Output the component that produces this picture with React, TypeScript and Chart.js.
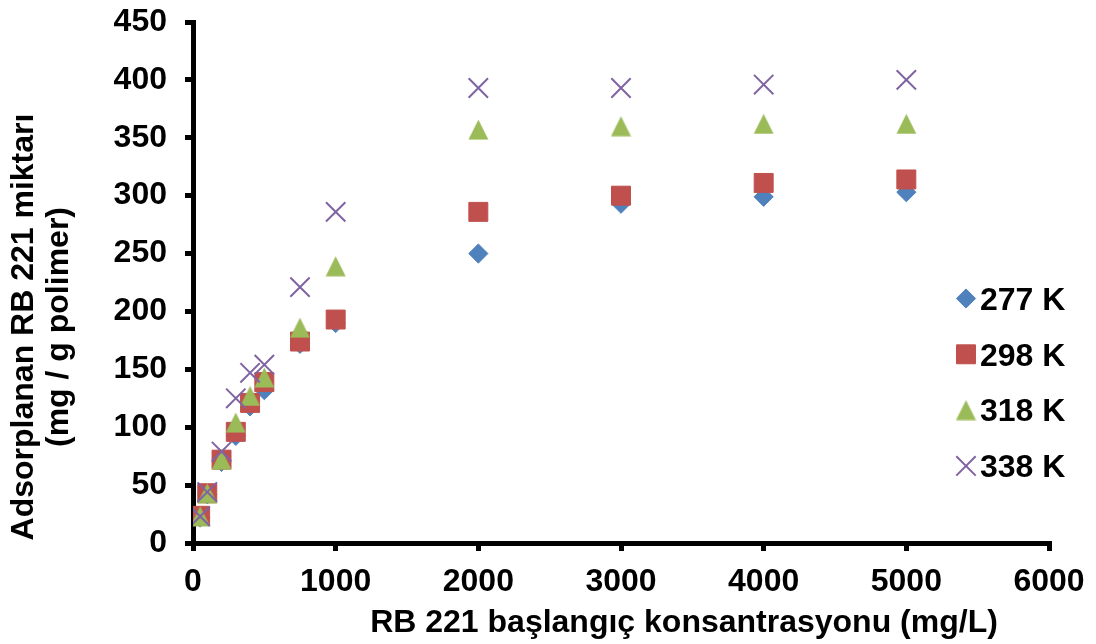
import React, { useEffect, useRef } from "react";
import { Chart, registerables, PointElement } from "chart.js";

Chart.register(...registerables);

// ---- data ----
const concentrations = [50, 100, 200, 300, 400, 500, 750, 1000, 2000, 3000, 4000, 5000];
const q277 = [22, 42, 70, 92.5, 118, 132, 172, 190, 250, 293, 299, 303];
const q298 = [23.5, 43, 72, 96, 121, 139, 174, 193, 286, 300, 311, 314];
const q318 = [23, 43, 72, 104, 127, 143, 186, 239, 357, 360, 362, 362];
const q338 = [23, 44, 79, 125, 147, 154, 221, 286, 393, 393, 396, 400];
const seriesLabels = ["277 K", "298 K", "318 K", "338 K"];
const xTitle = "RB 221 başlangıç konsantrasyonu (mg/L)";
const yTitleLines = ["Adsorplanan RB 221 miktarı", "(mg / g polimer)"];
const xMin = 0;
const xMax = 6000;
const xStep = 1000;
const yMin = 0;
const yMax = 450;
const yStep = 50;

const FONT_FAMILY = '"Liberation Sans", Arial, Helvetica, sans-serif';
const FONT_SIZE = 32;
const COLORS = ["#4F81BD", "#C0504D", "#9BBB59", "#8064A2"];

function makeTriangle(color: string): HTMLCanvasElement {
  const c = document.createElement("canvas");
  c.width = 21;
  c.height = 21;
  const g = c.getContext("2d")!;
  g.fillStyle = color;
  g.beginPath();
  g.moveTo(10.5, 0.5);
  g.lineTo(20.5, 20.5);
  g.lineTo(0.5, 20.5);
  g.closePath();
  g.fill();
  return c;
}

const overlayPlugin = {
  id: "overlay",
  afterDraw(chart: any) {
    const ctx = chart.ctx as CanvasRenderingContext2D;
    ctx.save();
    ctx.fillStyle = "#000";
    ctx.font = `bold ${FONT_SIZE}px ${FONT_FAMILY}`;
    // Y title (two centred lines, rotated)
    const yCenters = [33, 68];
    yTitleLines.forEach((line, i) => {
      ctx.save();
      ctx.translate(yCenters[i], 327);
      ctx.rotate(-Math.PI / 2);
      ctx.textAlign = "center";
      ctx.textBaseline = "alphabetic";
      ctx.fillText(line, 0, 0);
      ctx.restore();
    });
    // X title
    ctx.textAlign = "center";
    ctx.textBaseline = "alphabetic";
    ctx.fillText(xTitle, 684, 632);

    // Legend
    chart.data.datasets.forEach((ds: any, i: number) => {
      const meta = chart.getDatasetMeta(i);
      const el = meta.data[0];
      const y = 298.5 + 55.8 * i;
      if (el) {
        const pe: any = new (PointElement as any)({ x: 966, y, options: el.options });
        pe.draw(ctx);
      }
      ctx.fillStyle = "#000";
      ctx.textAlign = "left";
      ctx.textBaseline = "alphabetic";
      ctx.font = `bold ${FONT_SIZE}px ${FONT_FAMILY}`;
      ctx.fillText(ds.label, 980, y + 11.3);
    });
    ctx.restore();
  },
};

export default function App() {
  const ref = useRef<HTMLCanvasElement | null>(null);

  useEffect(() => {
    if (!ref.current) return;
    const tri = makeTriangle(COLORS[2]);
    const series = [q277, q298, q318, q338];
    const styles: any[] = [
      { pointStyle: "rectRot", radius: 9.6, borderWidth: 1 },
      { pointStyle: "rect", radius: 13.4, borderWidth: 1 },
      { pointStyle: tri, radius: 10, borderWidth: 0 },
      { pointStyle: "crossRot", radius: 13.7, borderWidth: 2 },
    ];
    const orders = [3, 2, 1, 0];
    const tickFont = { family: FONT_FAMILY, size: FONT_SIZE, weight: "bold" as const };
    const fixPadding = (s: any) => {
      s.paddingTop = 0;
      s.paddingBottom = 0;
      s.paddingLeft = 0;
      s.paddingRight = 0;
    };

    const chart = new Chart(ref.current, {
      type: "scatter",
      data: {
        datasets: series.map((vals, i) => ({
          label: seriesLabels[i],
          data: concentrations.map((x, j) => ({ x, y: vals[j] })),
          showLine: false,
          order: orders[i],
          backgroundColor: COLORS[i],
          borderColor: COLORS[i],
          pointBackgroundColor: COLORS[i],
          pointBorderColor: COLORS[i],
          pointStyle: styles[i].pointStyle,
          pointRadius: styles[i].radius,
          pointHoverRadius: styles[i].radius,
          pointBorderWidth: styles[i].borderWidth,
        })),
      },
      options: {
        responsive: true,
        maintainAspectRatio: false,
        animation: false,
        layout: { padding: { top: 22, right: 47, left: 0, bottom: 0 } },
        plugins: {
          legend: { display: false },
          tooltip: { enabled: false },
          title: { display: false },
        },
        scales: {
          x: {
            type: "linear",
            min: xMin,
            max: xMax,
            ticks: {
              stepSize: xStep,
              color: "#000",
              font: tickFont,
              padding: 12,
              maxRotation: 0,
              callback: (v: any) => String(v),
            },
            grid: {
              display: true,
              drawOnChartArea: false,
              drawTicks: true,
              tickLength: 8,
              color: "#000",
              lineWidth: 5,
              tickWidth: 5,
            },
            border: { display: true, color: "#000", width: 5 },
            afterFit: (s: any) => {
              s.height = 101;
              fixPadding(s);
            },
          },
          y: {
            type: "linear",
            min: yMin,
            max: yMax,
            ticks: {
              stepSize: yStep,
              color: "#000",
              font: tickFont,
              padding: 18,
              callback: (v: any) => String(v),
            },
            grid: {
              display: true,
              drawOnChartArea: false,
              drawTicks: true,
              tickLength: 8,
              color: "#000",
              lineWidth: 5,
              tickWidth: 5,
            },
            border: { display: true, color: "#000", width: 5 },
            afterFit: (s: any) => {
              s.width = 193;
              fixPadding(s);
            },
          },
        },
      },
      plugins: [overlayPlugin],
    });
    return () => chart.destroy();
  }, []);

  return (
    <div style={{ position: "fixed", left: 0, top: 0, width: 1096, height: 644, background: "#fff" }}>
      <canvas ref={ref} />
    </div>
  );
}
